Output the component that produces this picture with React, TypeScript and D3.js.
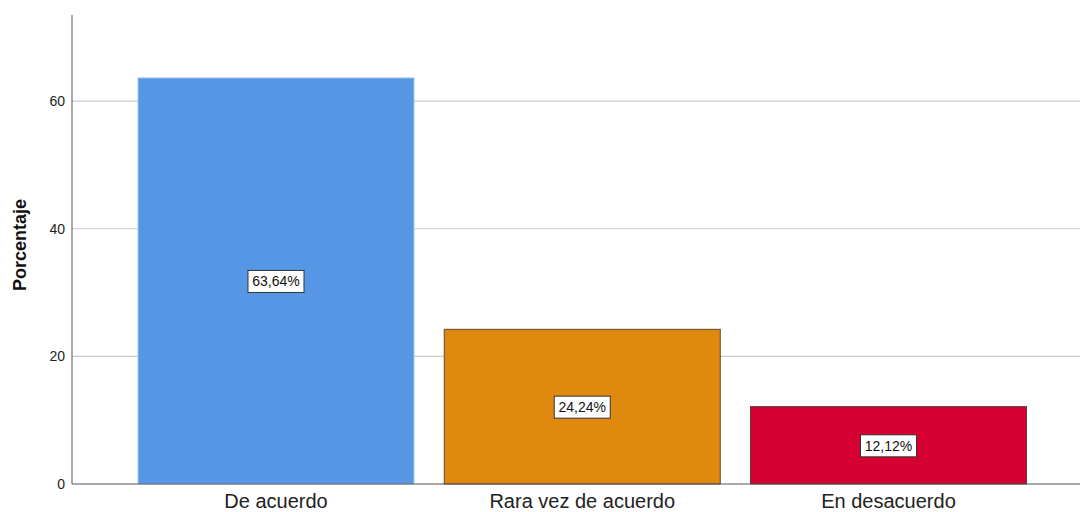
import React from "react";
import * as d3 from "d3";

const categories = ["De acuerdo", "Rara vez de acuerdo", "En desacuerdo"];
const values = [63.64, 24.24, 12.12];
const valueLabels = ["63,64%", "24,24%", "12,12%"];
const yTicks = [0, 20, 40, 60];
const colors = ["#5596e5", "#df890f", "#d50031"];
const strokes = ["#a9c8f0", "#5a4a30", "#5a3a3a"];

export default function App() {
  const W = 1080, H = 512;
  const x0 = 72, yBase = 484, yTop = 15;
  const y = d3.scaleLinear().domain([0, 73.5]).range([yBase, yTop]);
  const x = d3
    .scaleBand<string>()
    .domain(categories)
    .range([x0, 1092.5])
    .paddingInner(0.0988)
    .paddingOuter(0.2155);
  return (
    <svg width={W} height={H} style={{ position: "absolute", left: 0, top: 0, background: "#fff" }}
      fontFamily="Liberation Sans, Arial, sans-serif">
      {yTicks.filter((t) => t > 0).map((t) => (
        <line key={t} x1={x0} x2={W} y1={y(t)} y2={y(t)} stroke="#cbcbcb" strokeWidth={1.2} />
      ))}
      {categories.map((c, i) => {
        const bx = x(c)!;
        const bw = x.bandwidth();
        const by = y(values[i]);
        const cy = (by + yBase) / 2;
        return (
          <g key={c}>
            <rect x={bx} y={by} width={bw} height={yBase - by} fill={colors[i]} stroke={strokes[i]} strokeWidth={1} />
            <rect x={bx + bw / 2 - 28} y={cy - 10.5} width={56} height={22} fill="#fff" stroke="#333" strokeWidth={1} />
            <text x={bx + bw / 2} y={cy + 0.5} dy="0.35em" textAnchor="middle" fontSize={14} fill="#111">
              {valueLabels[i]}
            </text>
            <text x={bx + bw / 2} y={507.5} textAnchor="middle" fontSize={20} fill="#222">
              {c}
            </text>
          </g>
        );
      })}
      <line x1={x0} x2={W} y1={yBase} y2={yBase} stroke="#555" strokeWidth={1} />
      <line x1={x0} x2={x0} y1={yTop} y2={yBase} stroke="#555" strokeWidth={1} />
      {yTicks.map((t) => (
        <text key={t} x={65} y={y(t)} dy="0.35em" textAnchor="end" fontSize={14} fill="#222">
          {t}
        </text>
      ))}
      <text transform={`translate(26,${245}) rotate(-90)`} textAnchor="middle" fontSize={18} fontWeight="bold" fill="#111">
        Porcentaje
      </text>
    </svg>
  );
}
